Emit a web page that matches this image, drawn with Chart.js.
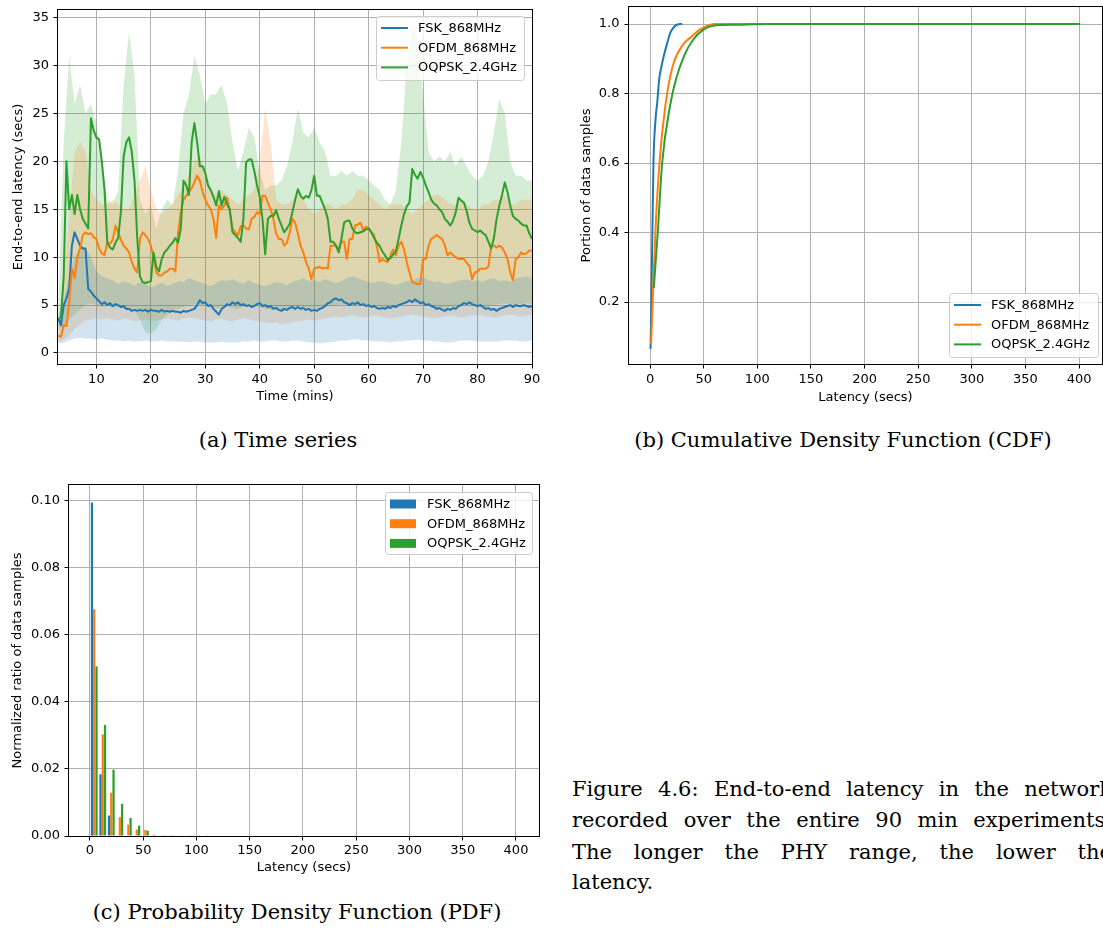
<!DOCTYPE html>
<html>
<head>
<meta charset="utf-8">
<script src="https://cdn.jsdelivr.net/npm/chart.js@4.4.1/dist/chart.umd.min.js"></script>
<style>
  html, body { margin: 0; padding: 0; background: #fff; }
  body { position: relative; width: 1103px; height: 929px; overflow: hidden; }
  .panel { position: absolute; }
  .cap { position: absolute; font-family: 'DejaVu Serif', serif; font-size: 21px; line-height: 31px; color: #000; white-space: nowrap; }
  .sub { text-align: center; }
  .jl { display: flex; justify-content: space-between; left: 572px; width: 540px; }
</style>
</head>
<body>
<div class="panel" style="left:0;top:0"><canvas id="chart-a" width="545" height="410"></canvas></div>
<div class="panel" style="left:570px;top:0"><canvas id="chart-b" width="540" height="410"></canvas></div>
<div class="panel" style="left:0;top:475px"><canvas id="chart-c" width="552" height="407"></canvas></div>

<div class="cap sub" style="left:0;top:425px;width:556px">(a) Time series</div>
<div class="cap sub" style="left:583px;top:425px;width:520px">(b) Cumulative Density Function (CDF)</div>
<div class="cap sub" style="left:0;top:897px;width:594px">(c) Probability Density Function (PDF)</div>

<div class="cap jl" style="top:774px"><span>Figure</span><span>4.6:</span><span>End-to-end</span><span>latency</span><span>in</span><span>the</span><span>network</span></div>
<div class="cap jl" style="top:805px"><span>recorded</span><span>over</span><span>the</span><span>entire</span><span>90</span><span>min</span><span>experiments.</span></div>
<div class="cap jl" style="top:837px"><span>The</span><span>longer</span><span>the</span><span>PHY</span><span>range,</span><span>the</span><span>lower</span><span>the</span></div>
<div class="cap" style="left:572px;top:867px">latency.</div>

<script>
const seriesNames = ['FSK_868MHz', 'OFDM_868MHz', 'OQPSK_2.4GHz'];
const colors = ['#1f77b4', '#ff7f0e', '#2ca02c'];
const bandColors = ['rgba(31,119,180,0.2)', 'rgba(255,127,14,0.2)', 'rgba(44,160,44,0.2)'];

// (a) time series: mean lines every half minute
const halfMinutes = [3, 3.5, 4, 4.5, 5, 5.5, 6, 6.5, 7, 7.5,
  8, 8.5, 9, 9.5, 10, 10.5, 11, 11.5, 12, 12.5,
  13, 13.5, 14, 14.5, 15, 15.5, 16, 16.5, 17, 17.5,
  18, 18.5, 19, 19.5, 20, 20.5, 21, 21.5, 22, 22.5,
  23, 23.5, 24, 24.5, 25, 25.5, 26, 26.5, 27, 27.5,
  28, 28.5, 29, 29.5, 30, 30.5, 31, 31.5, 32, 32.5,
  33, 33.5, 34, 34.5, 35, 35.5, 36, 36.5, 37, 37.5,
  38, 38.5, 39, 39.5, 40, 40.5, 41, 41.5, 42, 42.5,
  43, 43.5, 44, 44.5, 45, 45.5, 46, 46.5, 47, 47.5,
  48, 48.5, 49, 49.5, 50, 50.5, 51, 51.5, 52, 52.5,
  53, 53.5, 54, 54.5, 55, 55.5, 56, 56.5, 57, 57.5,
  58, 58.5, 59, 59.5, 60, 60.5, 61, 61.5, 62, 62.5,
  63, 63.5, 64, 64.5, 65, 65.5, 66, 66.5, 67, 67.5,
  68, 68.5, 69, 69.5, 70, 70.5, 71, 71.5, 72, 72.5,
  73, 73.5, 74, 74.5, 75, 75.5, 76, 76.5, 77, 77.5,
  78, 78.5, 79, 79.5, 80, 80.5, 81, 81.5, 82, 82.5,
  83, 83.5, 84, 84.5, 85, 85.5, 86, 86.5, 87, 87.5,
  88, 88.5, 89, 89.5, 90];

const fskMean = [3.6, 2.9, 5.0, 5.7, 6.7, 11.2, 12.6, 11.9, 11.2, 10.9,
  10.9, 6.7, 6.4, 6.0, 5.7, 5.4, 5.1, 5.3, 5.0, 5.2,
  4.9, 5.1, 5.0, 4.8, 4.9, 4.6, 4.6, 4.4, 4.5, 4.4,
  4.5, 4.4, 4.5, 4.3, 4.5, 4.4, 4.4, 4.3, 4.5, 4.3,
  4.4, 4.3, 4.4, 4.3, 4.3, 4.2, 4.4, 4.3, 4.4, 4.5,
  4.6, 5.0, 5.5, 5.2, 5.3, 4.9, 5.0, 4.6, 4.3, 4.0,
  4.6, 4.8, 5.1, 5.0, 5.3, 5.1, 5.3, 5.0, 5.1, 4.9,
  5.0, 4.8, 4.9, 5.1, 5.2, 4.9, 5.0, 4.8, 4.9, 4.6,
  4.7, 4.5, 4.4, 4.6, 4.5, 4.7, 4.8, 4.6, 4.8, 4.6,
  4.7, 4.5, 4.6, 4.4, 4.5, 4.4, 4.6, 4.7, 4.9, 5.2,
  5.3, 5.6, 5.7, 5.5, 5.6, 5.3, 5.2, 5.0, 5.2, 5.1,
  5.3, 5.0, 5.1, 4.9, 5.0, 4.8, 4.9, 4.7, 4.6, 4.7,
  4.6, 4.8, 4.7, 4.9, 4.8, 5.0, 5.1, 5.2, 5.3, 5.5,
  5.3, 5.6, 5.4, 5.2, 5.3, 5.0, 5.1, 4.9, 4.8, 4.6,
  4.7, 4.5, 4.4, 4.6, 4.5, 4.7, 4.6, 4.9, 5.0, 5.2,
  5.1, 5.3, 5.1, 5.0, 4.9, 5.0, 4.8, 4.6, 4.7, 4.5,
  4.6, 4.4, 4.6, 4.7, 4.8, 4.9, 5.0, 4.8, 5.0, 4.9,
  4.9, 5.0, 4.9, 4.8, 4.9];

const ofdmMean = [1.8, 1.7, 2.9, 2.8, 5.2, 8.8, 7.8, 10.0, 10.9, 12.3,
  12.6, 12.4, 12.5, 12.1, 11.9, 10.9, 10.4, 10.2, 11.6, 11.4,
  11.8, 13.3, 12.6, 11.8, 11.2, 10.9, 10.5, 9.5, 8.8, 8.4,
  11.9, 12.6, 12.3, 11.9, 11.2, 10.0, 8.4, 8.1, 8.1, 8.4,
  8.5, 8.8, 8.8, 8.5, 12.5, 14.7, 16.0, 16.4, 16.8, 17.2,
  17.8, 18.5, 18.0, 16.8, 16.0, 15.4, 15.0, 14.0, 12.0, 15.4,
  15.0, 15.4, 16.2, 14.7, 13.0, 12.6, 12.3, 13.2, 13.3, 13.0,
  12.9, 14.0, 14.2, 14.7, 14.5, 16.4, 16.4, 15.7, 15.0, 14.0,
  12.5, 11.9, 11.9, 11.2, 11.5, 12.6, 14.0, 13.6, 12.5, 11.2,
  10.5, 9.5, 8.8, 7.7, 8.8, 8.9, 9.0, 8.8, 8.9, 8.8,
  11.2, 11.2, 11.2, 10.9, 11.6, 11.6, 9.8, 11.9, 11.9, 13.3,
  13.4, 13.6, 12.8, 13.2, 13.0, 12.6, 12.3, 11.2, 9.5, 9.8,
  9.6, 9.5, 10.2, 10.8, 10.2, 11.2, 11.6, 10.8, 9.5, 8.4,
  7.4, 7.3, 7.2, 7.2, 9.8, 9.8, 11.2, 11.9, 12.1, 12.3,
  12.1, 11.9, 11.2, 10.2, 10.5, 10.2, 10.0, 9.8, 9.8, 9.8,
  9.4, 9.1, 7.7, 8.4, 8.5, 8.8, 8.8, 8.8, 9.0, 11.2,
  11.2, 11.0, 11.2, 11.0, 10.5, 9.8, 8.4, 7.6, 9.8, 10.0,
  10.5, 10.3, 10.4, 10.7, 10.7];

const oqpskMean = [3.5, 3.8, 8.0, 20.0, 15.0, 16.5, 14.5, 16.5, 15.0, 14.0,
  13.5, 13.0, 24.5, 23.2, 22.5, 22.3, 20.0, 17.0, 11.5, 11.0,
  10.8, 11.5, 12.0, 14.7, 20.5, 22.0, 22.5, 21.0, 18.0, 12.0,
  8.0, 7.4, 7.3, 7.4, 7.5, 10.5, 9.0, 8.5, 9.8, 10.5,
  10.8, 11.2, 11.5, 12.0, 11.5, 13.0, 18.0, 17.5, 16.5, 22.0,
  24.0, 22.0, 19.5, 19.5, 18.8, 17.5, 17.0, 16.3, 15.4, 16.9,
  15.4, 16.3, 15.5, 15.0, 12.6, 12.3, 12.0, 11.6, 14.0, 19.9,
  20.2, 20.2, 19.0, 17.5, 16.3, 14.0, 10.3, 14.0, 14.3, 14.3,
  14.9, 14.0, 13.3, 12.6, 13.0, 13.5, 14.7, 16.0, 17.1, 16.4,
  16.1, 16.4, 16.2, 17.0, 18.5, 16.4, 16.4, 15.7, 15.0, 14.0,
  11.6, 11.6, 11.2, 10.5, 11.9, 13.6, 13.8, 13.8, 13.0, 12.6,
  12.5, 12.6, 12.7, 12.9, 13.0, 12.6, 12.0, 11.5, 11.2, 10.6,
  10.2, 9.7, 9.9, 10.3, 10.6, 11.9, 13.3, 14.5, 15.3, 15.7,
  19.2, 18.6, 18.2, 18.9, 18.3, 17.5, 16.8, 16.0, 15.6, 15.4,
  15.0, 14.7, 14.0, 13.7, 13.3, 13.8, 14.7, 16.2, 15.9, 15.7,
  14.8, 13.6, 12.95, 12.8, 12.6, 12.8, 12.5, 12.3, 11.6, 10.9,
  12.0, 14.0, 15.4, 16.5, 17.8, 16.8, 15.4, 14.3, 14.0, 13.8,
  13.5, 13.3, 13.3, 12.5, 11.9];

// (a) shaded spread bands, one value per minute
const minutes = [3, 4, 5, 6, 7, 8, 9, 10, 11, 12,
  13, 14, 15, 16, 17, 18, 19, 20, 21, 22,
  23, 24, 25, 26, 27, 28, 29, 30, 31, 32,
  33, 34, 35, 36, 37, 38, 39, 40, 41, 42,
  43, 44, 45, 46, 47, 48, 49, 50, 51, 52,
  53, 54, 55, 56, 57, 58, 59, 60, 61, 62,
  63, 64, 65, 66, 67, 68, 69, 70, 71, 72,
  73, 74, 75, 76, 77, 78, 79, 80, 81, 82,
  83, 84, 85, 86, 87, 88, 89, 90];

const fskLow = [1.0, 1.1, 1.3, 1.5, 1.6, 1.5, 1.5, 1.4, 1.5, 1.4,
  1.3, 1.3, 1.2, 1.3, 1.2, 1.2, 1.3, 1.2, 1.2, 1.3,
  1.2, 1.2, 1.2, 1.2, 1.1, 1.2, 1.2, 1.1, 1.1, 1.1,
  1.2, 1.1, 1.1, 1.1, 1.2, 1.2, 1.3, 1.2, 1.2, 1.3,
  1.3, 1.2, 1.2, 1.3, 1.3, 1.2, 1.1, 1.1, 1.0, 1.1,
  1.1, 1.2, 1.3, 1.3, 1.4, 1.4, 1.3, 1.3, 1.2, 1.2,
  1.2, 1.1, 1.2, 1.2, 1.3, 1.3, 1.4, 1.3, 1.3, 1.2,
  1.2, 1.1, 1.1, 1.2, 1.3, 1.3, 1.3, 1.2, 1.2, 1.2,
  1.2, 1.2, 1.3, 1.3, 1.3, 1.2, 1.2, 1.3];
const fskHigh = [4.0, 5.5, 8.0, 10.0, 11.0, 11.0, 10.0, 8.5, 8.0, 7.8,
  7.6, 7.2, 7.5, 7.3, 7.0, 7.4, 7.2, 6.8, 7.1, 7.3,
  7.0, 7.2, 7.5, 7.4, 7.8, 7.6, 7.4, 7.2, 7.0, 7.3,
  7.6, 7.5, 7.7, 7.4, 7.2, 7.6, 7.3, 7.1, 7.0, 7.2,
  7.4, 7.3, 7.1, 7.4, 7.6, 7.8, 7.5, 7.6, 7.4, 7.7,
  7.5, 7.3, 7.5, 7.8, 8.0, 7.8, 7.6, 7.4, 7.3, 7.5,
  7.4, 7.2, 7.1, 7.3, 7.5, 7.6, 7.8, 7.9, 7.6, 7.4,
  7.5, 7.2, 7.3, 7.5, 7.6, 7.7, 7.5, 7.6, 7.4, 7.7,
  7.8, 7.5, 7.6, 7.4, 7.8, 7.9, 8.0, 7.8];

const ofdmLow = [1.2, 1.4, 1.8, 2.5, 3.0, 3.4, 3.5, 3.6, 3.5, 3.6,
  3.5, 3.4, 3.6, 3.5, 3.3, 3.4, 3.5, 3.3, 3.4, 3.5,
  3.6, 3.5, 3.4, 3.6, 3.7, 3.6, 3.5, 3.4, 3.3, 3.5,
  3.6, 3.4, 3.3, 3.5, 3.6, 3.5, 3.4, 3.3, 3.2, 3.1,
  3.2, 3.0, 3.1, 3.2, 3.3, 3.4, 3.5, 3.4, 3.5, 3.6,
  3.7, 3.8, 3.7, 3.8, 3.9, 3.8, 3.7, 3.8, 3.9, 3.8,
  3.7, 3.6, 3.7, 3.8, 3.9, 4.0, 3.9, 3.8, 3.7, 3.6,
  3.7, 3.8, 3.9, 3.8, 3.7, 3.8, 3.9, 4.0, 3.9, 3.8,
  3.7, 3.8, 3.9, 4.0, 3.9, 3.8, 3.9, 4.0];
const ofdmHigh = [3.0, 8.0, 14.0, 21.0, 22.0, 21.0, 17.0, 16.0, 15.5, 15.5,
  16.0, 15.5, 15.0, 15.0, 16.5, 18.0, 19.5, 17.0, 15.0, 14.5,
  15.0, 15.5, 16.5, 17.5, 18.5, 20.0, 20.5, 19.0, 17.0, 16.5,
  17.0, 16.5, 16.0, 15.5, 16.0, 16.5, 17.0, 20.0, 25.5, 22.0,
  16.0, 15.5, 15.5, 16.0, 16.5, 16.0, 15.0, 14.5, 15.0, 15.5,
  15.5, 15.0, 15.5, 15.5, 16.0, 17.0, 17.0, 16.5, 16.0, 15.5,
  15.0, 15.5, 15.5, 15.5, 15.0, 14.5, 15.0, 15.5, 16.0, 16.5,
  16.5, 16.0, 15.5, 15.5, 16.0, 15.5, 15.0, 15.0, 15.5, 15.5,
  16.0, 16.0, 16.5, 15.5, 15.5, 16.0, 16.0, 16.0];

const oqpskLow = [2.5, 2.8, 3.5, 4.0, 4.5, 5.0, 5.2, 5.0, 4.8, 4.9,
  4.7, 4.8, 4.6, 4.7, 4.5, 3.5, 2.2, 2.0, 2.5, 3.5,
  4.0, 4.5, 4.6, 4.8, 5.0, 5.1, 5.0, 4.9, 4.8, 4.7,
  4.8, 4.9, 4.7, 4.6, 4.8, 5.0, 4.9, 4.8, 4.6, 4.5,
  4.6, 4.5, 4.7, 4.8, 4.9, 4.8, 4.7, 4.6, 4.7, 4.8,
  4.9, 5.0, 5.1, 5.0, 4.9, 5.0, 5.1, 5.0, 4.9, 4.8,
  4.7, 4.8, 4.9, 5.0, 5.2, 5.3, 5.1, 5.0, 4.9, 4.8,
  4.7, 4.6, 4.8, 4.9, 5.0, 5.1, 5.0, 4.9, 4.8, 4.9,
  5.0, 5.1, 5.2, 5.1, 5.0, 5.1, 5.2, 5.1];
const oqpskHigh = [5.0, 22.0, 31.0, 26.0, 28.0, 25.0, 26.0, 24.0, 20.0, 16.0,
  15.5, 17.0, 28.0, 33.5, 29.0, 16.0, 14.5, 15.5, 13.0, 15.0,
  16.0, 15.5, 19.0, 25.0, 27.0, 31.0, 29.0, 26.0, 27.0, 27.0,
  28.0, 26.0, 22.0, 19.0, 21.0, 23.5, 22.5, 19.0, 17.0, 17.5,
  17.5, 18.0, 19.5, 22.0, 25.5, 23.0, 22.5, 23.5, 22.0, 21.0,
  18.5, 18.5, 19.0, 18.5, 19.0, 18.5, 18.5, 18.0, 17.5, 17.0,
  16.0, 15.5, 17.0, 22.0, 30.0, 34.0, 33.0, 27.0, 21.0, 20.0,
  20.5, 20.0, 21.0, 19.5, 20.5, 19.5, 18.5, 18.0, 18.5, 20.0,
  23.0, 26.5, 25.0, 20.0, 18.5, 18.5, 18.0, 18.0];

const timeTicks = [10, 20, 30, 40, 50, 60, 70, 80, 90];
const latencyTicks = [0, 5, 10, 15, 20, 25, 30, 35];

// (b) CDF
const fskCdfX = [0.5, 1.2, 2.2, 3.2, 5, 6.9, 8.5, 10.6, 13, 16, 19, 22, 25, 30];
const fskCdfY = [0.065, 0.2, 0.4, 0.6, 0.72, 0.78, 0.84, 0.877, 0.91, 0.945, 0.975, 0.99, 0.998, 1.0];
const ofdmCdfX = [1, 2.5, 5, 8.8, 14.4, 21, 30.6, 38.4, 46, 55.6, 60, 105];
const ofdmCdfY = [0.08, 0.2, 0.4, 0.6, 0.767, 0.877, 0.94, 0.963, 0.983, 0.997, 1.0, 1.0];
const oqpskCdfX = [3.5, 7.2, 11.3, 18.8, 24.4, 32, 40, 49.4, 58.8, 80, 110, 401];
const oqpskCdfY = [0.24, 0.4, 0.6, 0.767, 0.843, 0.91, 0.954, 0.983, 0.995, 0.998, 1.0, 1.0];
const cdfTicks = [0.2, 0.4, 0.6, 0.8, 1.0];

// (c) PDF, histogram bin centres (secs)
const pdfBins = [4, 12, 20, 28, 36, 44, 52, 60, 68, 76, 84, 92, 100, 108];
const fskPdf = [0.0995, 0.0184, 0.0061, 0.0002, 0, 0, 0, 0, 0, 0, 0, 0, 0, 0];
const ofdmPdf = [0.0676, 0.0303, 0.0129, 0.0056, 0.0034, 0.0019, 0.0018, 0.0004, 0.0001, 0.0001, 0, 0, 0, 0];
const oqpskPdf = [0.0506, 0.0331, 0.0198, 0.0096, 0.0054, 0.0031, 0.0016, 0.0002, 0.0001, 0.0001, 0.0001, 0.0001, 0.0001, 0.0001];
const pdfTicks = [0, 0.02, 0.04, 0.06, 0.08, 0.10];
const secsTicks = [0, 50, 100, 150, 200, 250, 300, 350, 400];

const FONT = { family: "'DejaVu Sans', sans-serif", size: 13 };
const GRID = { color: '#b0b0b0', lineWidth: 1, tickColor: '#000', tickLength: 4.5, offset: false };

// black box round the plot area, like matplotlib spines
const frame = {
  id: 'frame',
  afterDatasetsDraw(chart) {
    const { ctx, chartArea: a } = chart;
    ctx.save();
    ctx.strokeStyle = '#000';
    ctx.lineWidth = 1;
    ctx.strokeRect(Math.round(a.left) - 0.5, Math.round(a.top) - 0.5, Math.round(a.width) + 1, Math.round(a.height) + 1);
    ctx.restore();
  }
};

// legend box drawn inside the plot area
const legendBox = {
  id: 'legendBox',
  afterDatasetsDraw(chart, args, o) {
    const { ctx, chartArea: a } = chart;
    const left = Math.round(a.right - o.right - o.width);
    const top = Math.round(o.bottom != null ? a.bottom - o.bottom - o.height : a.top + o.top);
    ctx.save();
    ctx.beginPath();
    ctx.roundRect(left + 0.5, top + 0.5, o.width, o.height, 3);
    ctx.fillStyle = 'rgba(255,255,255,0.8)';
    ctx.fill();
    ctx.strokeStyle = '#cccccc';
    ctx.lineWidth = 1;
    ctx.stroke();
    ctx.font = "13px 'DejaVu Sans'";
    ctx.textBaseline = 'middle';
    seriesNames.forEach((name, i) => {
      const cy = top + 12 + i * 19.7;
      if (o.patch) {
        ctx.fillStyle = colors[i];
        ctx.fillRect(left + 5, cy - 4.5, 26, 9);
      } else {
        ctx.strokeStyle = colors[i];
        ctx.lineWidth = 2;
        ctx.beginPath();
        ctx.moveTo(left + 5, cy);
        ctx.lineTo(left + 32, cy);
        ctx.stroke();
      }
      ctx.fillStyle = '#000';
      ctx.fillText(name, left + 42, cy + 0.5);
    });
    ctx.restore();
  }
};

function scale(o) {
  return {
    type: 'linear',
    min: o.min,
    max: o.max,
    offset: false,
    afterBuildTicks: s => { s.ticks = o.ticks.map(v => ({ value: v })); },
    afterFit: s => {
      if (s.isHorizontal()) s.height = o.size; else s.width = o.size;
      s.paddingTop = 0; s.paddingBottom = 0; s.paddingLeft = 0; s.paddingRight = 0;
    },
    grid: GRID,
    border: { display: false },
    ticks: { font: FONT, color: '#000', padding: o.pad, maxRotation: 0, autoSkip: false, callback: o.fmt },
    title: { display: true, text: o.title, font: FONT, color: '#000', padding: o.titlePad }
  };
}

const baseOptions = (padding) => ({
  responsive: false,
  animation: false,
  events: [],
  layout: { padding, autoPadding: false },
  plugins: { legend: { display: false }, tooltip: { enabled: false } }
});

function points(xs, ys) {
  return xs.map((x, i) => ({ x, y: ys[i] }));
}

// (a) Time series
const meanData = [fskMean, ofdmMean, oqpskMean];
const lowData = [fskLow, ofdmLow, oqpskLow];
const highData = [fskHigh, ofdmHigh, oqpskHigh];

const tsDatasets = [];
meanData.forEach((d, i) => {
  tsDatasets.push({
    label: seriesNames[i],
    data: points(halfMinutes, d),
    borderColor: colors[i],
    borderWidth: 2,
    borderJoinStyle: 'round',
    pointRadius: 0,
    fill: false,
    tension: 0,
    order: 2 - i
  });
});
highData.forEach((d, i) => {
  tsDatasets.push({
    data: points(minutes, d),
    borderColor: 'rgba(0,0,0,0)',
    borderWidth: 0,
    backgroundColor: bandColors[i],
    pointRadius: 0,
    fill: '+1',
    tension: 0,
    order: 10 + i
  });
  tsDatasets.push({
    data: points(minutes, lowData[i]),
    borderColor: 'rgba(0,0,0,0)',
    borderWidth: 0,
    pointRadius: 0,
    fill: false,
    tension: 0,
    order: 10 + i
  });
});

const optsA = baseOptions({ top: 10, right: 13, left: 0, bottom: 0 });
optsA.plugins.legendBox = { right: 8, top: 6, width: 148, height: 64 };
optsA.scales = {
  x: scale({ min: 2.95, max: 90, ticks: timeTicks, size: 46, pad: 3, fmt: v => String(v),
    title: 'Time (mins)', titlePad: { top: 0, bottom: 6 } }),
  y: scale({ min: -1.15, max: 35.8, ticks: latencyTicks, size: 58, pad: 4.5, fmt: v => String(v),
    title: 'End-to-end latency (secs)', titlePad: { top: 11, bottom: 0 } })
};

new Chart(document.getElementById('chart-a').getContext('2d'), {
  type: 'line',
  data: { datasets: tsDatasets },
  options: optsA,
  plugins: [frame, legendBox]
});

// (b) CDF
const cdfX = [fskCdfX, ofdmCdfX, oqpskCdfX];
const cdfY = [fskCdfY, ofdmCdfY, oqpskCdfY];

const optsB = baseOptions({ top: 7, right: 8, left: 0, bottom: 0 });
optsB.plugins.legendBox = { right: 4, bottom: 7, width: 149, height: 64 };
optsB.scales = {
  x: scale({ min: -19.6, max: 421.4, ticks: secsTicks, size: 46, pad: 3, fmt: v => String(v),
    title: 'Latency (secs)', titlePad: { top: 0, bottom: 5 } }),
  y: scale({ min: 0.0216, max: 1.049, ticks: cdfTicks, size: 59, pad: 5, fmt: v => v.toFixed(1),
    title: 'Portion of data samples', titlePad: { top: 9, bottom: 0 } })
};

new Chart(document.getElementById('chart-b').getContext('2d'), {
  type: 'line',
  data: {
    datasets: seriesNames.map((name, i) => ({
      label: name,
      data: points(cdfX[i], cdfY[i]),
      borderColor: colors[i],
      borderWidth: 2,
      pointRadius: 0,
      fill: false,
      cubicInterpolationMode: 'monotone',
      order: 2 - i
    }))
  },
  options: optsB,
  plugins: [frame, legendBox]
});

// (c) PDF
const pdfData = [fskPdf, ofdmPdf, oqpskPdf];

const optsC = baseOptions({ top: 10, right: 13, left: 0, bottom: 0 });
optsC.plugins.legendBox = { right: 7, top: 7, width: 147, height: 62, patch: true };
optsC.scales = {
  x: scale({ min: -19.7, max: 421.6, ticks: secsTicks, size: 46, pad: 2, fmt: v => String(v),
    title: 'Latency (secs)', titlePad: { top: 0, bottom: 6.7 } }),
  y: scale({ min: 0, max: 0.1047, ticks: pdfTicks, size: 69, pad: 4.5, fmt: v => v.toFixed(2),
    title: 'Normalized ratio of data samples', titlePad: { top: 10, bottom: 0 } })
};

new Chart(document.getElementById('chart-c').getContext('2d'), {
  type: 'bar',
  data: {
    datasets: seriesNames.map((name, i) => ({
      label: name,
      data: points(pdfBins, pdfData[i]),
      backgroundColor: colors[i],
      borderWidth: 0,
      barPercentage: 1.0,
      categoryPercentage: 0.8
    }))
  },
  options: optsC,
  plugins: [frame, legendBox]
});
</script>
</body>
</html>
